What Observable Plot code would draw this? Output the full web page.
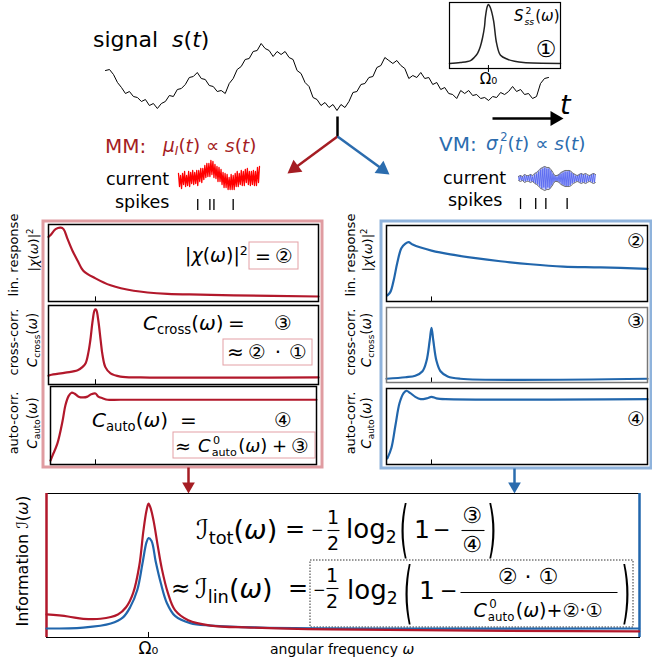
<!DOCTYPE html>
<html>
<head>
<meta charset="utf-8">
<script src="https://cdn.jsdelivr.net/npm/d3@7"></script>
<script src="https://cdn.jsdelivr.net/npm/@observablehq/plot@0.6"></script>
<style>
html,body{margin:0;padding:0;background:#fff;}
#fig{position:relative;width:652px;height:663px;overflow:hidden;background:#fff;font-family:"DejaVu Sans",sans-serif;color:#000;}
.t{position:absolute;white-space:nowrap;line-height:1;}
.t i{font-style:italic;}
.t sub{font-size:0.66em;vertical-align:-0.3em;line-height:0;}
.t sup{font-size:0.66em;vertical-align:0.55em;line-height:0;}
.ss{display:inline-grid;font-size:0.62em;line-height:1;padding-left:0.1em;padding-right:0.12em;}
.ss > span{grid-area:1 / 1;position:relative;}
.ss .up{top:-0.75em;left:0.12em;}
.ss .dn{top:0.38em;}
.cd{font-family:"DejaVu Sans","Noto Sans CJK JP",sans-serif;font-style:normal;}
.cal{font-family:"DejaVu Sans","DejaVu Serif","Noto Sans",serif;}
.gp{filter:grayscale(1);}
</style>
</head>
<body>
<div id="fig"></div>
<script>
// ---------------- data ----------------
// top stimulus trace s(t), sampled every ~4 px (amplitude, up = positive)
const signalValues = [40,41,36,28,23,17,19,14,13,9, 11,5,7,2,7,9,15,14,21,22,
  26,33,34,38,32,31,25,24,19,20, 17,27,32,41,44,51,52,59,60,67,
  62,60,54,59,56,59,53,51,40,37, 28,24,13,11,5,8,3,6,0,6,
  3,9,18,19,26,27,33,34,43,45, 53,50,47,50,45,42,32,35,33,38,
  32,33,26,28,21,23,17,16,12,20, 17,20,15,16,12,13,10,14,13,18,
  16,19,24,19,21,16,17,12,14,27, 32,33];

// inset: stimulus power spectrum S_ss^2(omega), omega in units of Omega0
const omegaInset = [0,0.28,0.54,0.64,0.72,0.79,0.85,0.90,0.92,0.97,1.0,1.05,1.13,1.21,1.31,1.49,1.67,1.9,2.85];
const spectrum   = [0.076,0.09,0.12,0.17,0.23,0.33,0.47,0.64,0.77,0.94,0.97,0.92,0.73,0.38,0.2,0.14,0.11,0.09,0.076];

// MM input current (red) and spike times
const mmCurrent = [22,9,20,7,22,11,24,9,20,10, 24,9,23,12,25,11,23,12,25,10,
  25,14,27,13,27,16,30,18,32,19, 32,19,35,21,34,18,31,17,29,14,
  28,14,26,11,23,8,22,8,21,6, 18,6,21,6,20,6,22,9,24,9,
  22,11,25,10,24,10,26,13,27,11, 24,10,24,11,25,10,24,10,28,13, 29];
const mmSpikes = [19,31,35,54];

// VM input current (blue), its envelope half-width (every 2 samples) and spike times
const vmCurrent = [22,18,23,18,22,17,23,17,23,18, 23,17,24,17,22,16,24,15,25,14,
  27,12,29,10,30,11,31,9,30,11, 30,10,28,13,25,16,23,17,22,17,
  24,16,25,14,26,13,27,12,27,12, 28,13,26,15,25,16,23,17,23,17,
  24,16,25,16,24,16,24,16,23,17, 23,17,24,16,25,16,24];
const vmEnvelope = [2,3,2,4,3,3,4,3,5,6,8,10,11,12,11,11,9,6,3,3,4,6,7,8,8,8,7,5,4,3,4,5,4,5,4,3,4,5,4];
const vmSpikes = [2,17,27,48];
const currentCenter = 20;

// MM panels (omega in units of Omega0, values normalised to panel height)
const omegaMM1 = [0,0.04,0.15,0.26,0.32,0.40,0.51,0.62,0.74,1.0,1.32,1.81,2.53,3.23,3.94,5.745];
const mmLinResp = [0.84,0.86,0.94,0.96,0.94,0.82,0.66,0.53,0.40,0.30,0.21,0.14,0.10,0.09,0.08,0.065];
const omegaMM2 = [0,0.04,0.36,0.62,0.72,0.79,0.85,0.89,0.94,0.98,1.0,1.02,1.06,1.11,1.15,1.21,1.32,1.53,1.96,5.745];
const mmCrossCorr = [0.11,0.12,0.15,0.18,0.22,0.27,0.41,0.56,0.81,0.94,0.95,0.94,0.81,0.56,0.37,0.22,0.14,0.10,0.09,0.09];
const omegaMM3 = [0.043,0.09,0.19,0.30,0.36,0.43,0.49,0.55,0.64,0.74,0.83,0.91,1.0,1.06,1.15,1.26,1.53,5.70];
const mmAutoCorr = [0.05,0.12,0.27,0.56,0.76,0.88,0.92,0.91,0.87,0.86,0.87,0.90,0.91,0.87,0.85,0.83,0.83,0.83];

// VM panels
const omegaVM1 = [0.02,0.09,0.16,0.24,0.33,0.42,0.49,0.58,0.76,1.0,1.42,1.98,2.53,3.2,3.93,4.76,5.8];
const vmLinResp = [0.08,0.13,0.28,0.51,0.70,0.76,0.78,0.75,0.71,0.67,0.62,0.57,0.53,0.49,0.46,0.45,0.43];
const omegaVM2 = [0,0.42,0.64,0.8,0.89,0.96,1.0,1.04,1.11,1.2,1.36,1.64,5.8];
const vmCrossCorr = [0.05,0.07,0.09,0.15,0.29,0.56,0.73,0.56,0.29,0.15,0.08,0.05,0.05];
const omegaVM3 = [0.02,0.11,0.2,0.29,0.38,0.44,0.53,0.64,0.76,0.89,1.0,1.11,1.31,5.8];
const vmAutoCorr = [0.08,0.22,0.52,0.81,0.94,0.97,0.94,0.89,0.86,0.87,0.89,0.87,0.86,0.86];

// information spectra
const omegaInfoMM = [0,0.21,0.36,0.53,0.70,0.78,0.85,0.91,0.95,0.98,1.0,1.02,1.05,1.09,1.13,1.19,1.26,1.39,1.61,2.0,2.78,5.81];
const infoMM = [0.16,0.146,0.13,0.13,0.16,0.21,0.31,0.50,0.74,0.88,0.93,0.90,0.81,0.64,0.48,0.31,0.19,0.12,0.083,0.069,0.056,0.042];
const omegaInfoVM = [0,0.36,0.63,0.75,0.82,0.89,0.94,0.98,1.0,1.03,1.07,1.12,1.18,1.26,1.41,1.61,2.1,5.81];
const infoVM = [0.0625,0.069,0.097,0.14,0.21,0.33,0.51,0.66,0.69,0.67,0.53,0.38,0.24,0.15,0.10,0.083,0.069,0.0625];

const omegaTicks = [1];
const tickLabels = ["Ω₀"];

// ---------------- helpers ----------------
const RED = "#b2182b", BLUE = "#2166ac", MMRED = "#a51d23", VMBLUE = "#2b6cae";
const FONT = "'DejaVu Sans', sans-serif";
const fig = document.getElementById("fig");
const baseStyle = {background: "transparent", overflow: "visible", fontFamily: FONT};

function put(node, left, top) {
  node.style.position = "absolute";
  node.style.left = left + "px";
  node.style.top = top + "px";
  fig.appendChild(node);
}
function T(html, x, y, size, o = {}) {
  const d = document.createElement("div");
  d.className = "t" + (o.cls ? " " + o.cls : "");
  d.innerHTML = html;
  d.style.left = x + "px";
  d.style.top = y + "px";
  d.style.fontSize = size + "px";
  if (o.color) d.style.color = o.color;
  let tr = `translate(${o.anchor === "middle" ? "-50%" : "0"},-50%)`;
  if (o.rotate) tr += ` rotate(${o.rotate}deg)`;
  if (o.sy) tr += ` scale(${o.sx || 1},${o.sy})`;
  d.style.transform = tr;
  fig.appendChild(d);
}
const zip = (xs, ys) => xs.map((w, i) => ({w, v: ys[i]}));
const ss = (up, dn) => `<span class=ss><span class=up>${up}</span><span class=dn>${dn}</span></span>`;

// ---------------- overlay: frames, boxes, arrows ----------------
const outerFrames = [
  {x1: 43, x2: 322, y1: 221, y2: 467, color: "#e09ca1"},
  {x1: 381, x2: 651, y1: 221, y2: 468, color: "#8fb3dc"}
];
const textBoxes = [
  {x1: 249, x2: 298, y1: 242, y2: 269},
  {x1: 223, x2: 312, y1: 339, y2: 365},
  {x1: 173, x2: 315, y1: 432, y2: 458}
];
const dottedBoxes = [{x1: 310, x2: 633, y1: 560, y2: 627}];
const fracBars = [
  {x1: 327, x2: 339, y: 530}, {x1: 461, x2: 484, y: 530},
  {x1: 326, x2: 338, y: 588}, {x1: 460, x2: 617, y: 592}
];
const stems = [{x1: 337, y1: 116, x2: 337, y2: 137, color: "#000"}];
const arrows = [
  {x1: 337, y1: 136, x2: 287, y2: 173, color: MMRED, L: 13},
  {x1: 337, y1: 136, x2: 389, y2: 174, color: VMBLUE, L: 13},
  {x1: 492, y1: 118, x2: 563, y2: 118, color: "#000", L: 13},
  {x1: 188, y1: 467, x2: 188, y2: 493, color: MMRED, L: 11},
  {x1: 514, y1: 468, x2: 514, y2: 493, color: VMBLUE, L: 11}
];
function arrowMarks(a) {
  const dx = a.x2 - a.x1, dy = a.y2 - a.y1, n = Math.hypot(dx, dy);
  const ux = dx / n, uy = dy / n, hy = a.L / 3;
  const headPt = {x: a.x2 - ux * 2 * hy, y: a.y2 - uy * 2 * hy, rot: Math.atan2(dx, -dy) * 180 / Math.PI};
  const body = {x1: a.x1, y1: a.y1, x2: a.x2 - ux * a.L * 0.8, y2: a.y2 - uy * a.L * 0.8};
  return [
    Plot.link([body], {x1: "x1", y1: "y1", x2: "x2", y2: "y2", stroke: a.color, strokeWidth: 2.5}),
    Plot.dot([headPt], {x: "x", y: "y", symbol: "triangle", rotate: "rot",
      r: Math.sqrt(3 * Math.sqrt(3) * hy * hy / Math.PI), fill: a.color, stroke: "none"})
  ];
}
const overlay = Plot.plot({
  width: 652, height: 663, margin: 0, style: baseStyle,
  x: {domain: [0, 652], range: [0, 652], axis: null},
  y: {domain: [0, 663], range: [0, 663], axis: null},
  marks: [
    ...outerFrames.map(f => Plot.rect([f], {x1: "x1", x2: "x2", y1: "y1", y2: "y2", fill: "none", stroke: f.color, strokeWidth: 3})),
    Plot.rect(textBoxes, {x1: "x1", x2: "x2", y1: "y1", y2: "y2", fill: "none", stroke: "#e3a0a5", strokeWidth: 1}),
    Plot.rect(dottedBoxes, {x1: "x1", x2: "x2", y1: "y1", y2: "y2", fill: "none", stroke: "#333", strokeWidth: 1, strokeDasharray: "1.5,1.5"}),
    Plot.link(fracBars, {x1: "x1", x2: "x2", y1: "y", y2: "y", stroke: "#000", strokeWidth: 1.1}),
    Plot.link(stems, {x1: "x1", y1: "y1", x2: "x2", y2: "y2", stroke: "#000", strokeWidth: 2.5}),
    ...arrows.flatMap(arrowMarks)
  ]
});
put(overlay, 0, 0);

// ---------------- signal trace ----------------
put(Plot.plot({
  width: 445, height: 76, margin: 1, style: baseStyle,
  x: {domain: [0, signalValues.length - 1], axis: null},
  y: {domain: [-2, 72], axis: null},
  marks: [Plot.line(signalValues, {x: (d, i) => i, y: d => d, stroke: "#000", strokeWidth: 1})]
}), 104, 37);

// ---------------- inset spectrum ----------------
put(Plot.plot({
  width: 113, height: 87, marginTop: 1, marginLeft: 1, marginRight: 1, marginBottom: 20, style: baseStyle,
  x: {domain: [0, 2.85]},
  y: {domain: [0, 1], axis: null},
  marks: [
    Plot.line(zip(omegaInset, spectrum), {x: "w", y: "v", stroke: "#222", strokeWidth: 1.5, curve: "catmull-rom"}),
    Plot.ruleX(omegaTicks, {y1: -0.06, y2: 0.045, stroke: "#000", strokeWidth: 1}),
    Plot.frame({stroke: "#000", strokeWidth: 1.2}),
    Plot.axisX({ticks: omegaTicks, tickFormat: (d, i) => tickLabels[i], tickSize: 0, tickPadding: 5, fontSize: 15, label: null})
  ]
}), 448, 1);

// ---------------- currents & spikes ----------------
put(Plot.plot({
  width: 83, height: 56, margin: 1, style: baseStyle,
  x: {domain: [0, mmCurrent.length - 1], axis: null},
  y: {domain: [-17, 37], axis: null},
  marks: [
    Plot.line(mmCurrent, {x: (d, i) => i, y: d => d, stroke: "#ff0000", strokeWidth: 1.3}),
    Plot.ruleX(mmSpikes, {y1: -4, y2: -15, stroke: "#000", strokeWidth: 1.3})
  ]
}), 177, 157);

const vmEnvData = vmEnvelope.map((w, i) => ({t: 2 * i, lo: currentCenter - w, hi: currentCenter + w}));
put(Plot.plot({
  width: 79, height: 54, margin: 1, style: baseStyle,
  x: {domain: [0, vmCurrent.length - 1], axis: null},
  y: {domain: [-14, 38], axis: null},
  marks: [
    Plot.areaY(vmEnvData, {x: "t", y1: "lo", y2: "hi", fill: "#c9cef8", curve: "catmull-rom"}),
    Plot.line(vmCurrent, {x: (d, i) => i, y: d => d, stroke: "#4a5cf0", strokeWidth: 0.8}),
    Plot.line(vmEnvData, {x: "t", y: "hi", stroke: "#6a6a6a", strokeWidth: 1, curve: "catmull-rom"}),
    Plot.line(vmEnvData, {x: "t", y: "lo", stroke: "#6a6a6a", strokeWidth: 1, curve: "catmull-rom"}),
    Plot.ruleX(vmSpikes, {y1: 0, y2: -11, stroke: "#000", strokeWidth: 1.3})
  ]
}), 517, 159);

// ---------------- panels ----------------
function panel(omega, values, f, domain, color, frameColor = "#000") {
  put(Plot.plot({
    width: f.x1 - f.x0 + 2, height: f.y1 - f.y0 + 2, margin: 1, style: baseStyle,
    x: {domain, axis: null},
    y: {domain: [0, 1], axis: null},
    marks: [
      Plot.line(zip(omega, values), {x: "w", y: "v", stroke: color, strokeWidth: 2.2, curve: "catmull-rom"}),
      Plot.ruleX(omegaTicks, {y1: 0, y2: 0.06, stroke: "#000", strokeWidth: 1}),
      Plot.frame({stroke: frameColor, strokeWidth: 1.5})
    ]
  }), f.x0 - 1, f.y0 - 1);
}
panel(omegaMM1, mmLinResp,  {x0: 48, x1: 318, y0: 224, y1: 301}, [0, 5.745], RED);
panel(omegaMM2, mmCrossCorr,{x0: 48, x1: 318, y0: 305, y1: 384}, [0, 5.745], RED);
panel(omegaMM3, mmAutoCorr, {x0: 50, x1: 316, y0: 386, y1: 464}, [0.0426, 5.702], RED);
panel(omegaVM1, vmLinResp,  {x0: 386, x1: 647, y0: 225, y1: 301}, [0, 5.8], BLUE);
panel(omegaVM2, vmCrossCorr,{x0: 386, x1: 647, y0: 307, y1: 382}, [0, 5.8], BLUE, "#777");
panel(omegaVM3, vmAutoCorr, {x0: 386, x1: 647, y0: 388, y1: 464}, [0, 5.8], BLUE);

// ---------------- information panel ----------------
put(Plot.plot({
  width: 595, height: 171, marginTop: 1, marginLeft: 1, marginRight: 1, marginBottom: 26, style: baseStyle,
  x: {domain: [0, 5.814]},
  y: {domain: [0, 1], axis: null},
  marks: [
    Plot.frame({stroke: "#000", strokeWidth: 1}),
    Plot.ruleX([0], {stroke: RED, strokeWidth: 2.5}),
    Plot.ruleX([5.814], {stroke: BLUE, strokeWidth: 2.5}),
    Plot.line(zip(omegaInfoVM, infoVM), {x: "w", y: "v", stroke: BLUE, strokeWidth: 2.2, curve: "catmull-rom"}),
    Plot.line(zip(omegaInfoMM, infoMM), {x: "w", y: "v", stroke: RED, strokeWidth: 2.2, curve: "catmull-rom"}),
    Plot.ruleX(omegaTicks, {y1: 0, y2: 0.035, stroke: "#000", strokeWidth: 1}),
    Plot.axisX({ticks: omegaTicks, tickFormat: (d, i) => tickLabels[i], tickSize: 0, tickPadding: 4, fontSize: 17, label: null})
  ]
}), 45, 492);

// ---------------- text ----------------
const c1 = "<span class=cd>①</span>", c2 = "<span class=cd>②</span>",
      c3 = "<span class=cd>③</span>", c4 = "<span class=cd>④</span>";
const M = {anchor: "middle"};

T("signal&nbsp;&nbsp;<i>s</i>(<i>t</i>)", 93, 40, 22);
T("<i>t</i>", 560, 104, 27);
T("<i>S</i>" + ss("2", "<i>ss</i>") + "(<i>ω</i>)", 514, 16, 15);
T(c1, 546, 49, 23, M);

T("MM:", 105, 146, 20, {color: MMRED});
T("<i>μ<sub>I</sub></i>(<i>t</i>) ∝ <i>s</i>(<i>t</i>)", 163, 146, 18.5, {color: MMRED});
T("VM:", 439, 144, 20, {color: VMBLUE});
T("<i>σ</i>" + ss("2", "<i>I</i>") + "(<i>t</i>) ∝ <i>s</i>(<i>t</i>)", 486, 144, 18.5, {color: VMBLUE});
T("current", 106, 180, 17.5);
T("spikes", 115, 203, 17.5);
T("current", 443, 179, 17.5);
T("spikes", 448, 201, 17.5);

// rotated y labels
const R = {anchor: "middle", rotate: -90};
for (const [xa, xb] of [[13, 33], [350, 367]]) {
  T("lin. response", xa, 255, 13, R);
  T("|<i>χ</i>(<i>ω</i>)|<sup>2</sup>", xb, 250, 13, R);
  T("cross-corr.", xa, 342, 13, R);
  T("<i>C</i><sub>cross</sub>(<i>ω</i>)", xb, 340, 13.5, R);
  T("auto-corr.", xa, 423, 13, R);
  T("<i>C</i><sub>auto</sub>(<i>ω</i>)", xb, 423, 13.5, R);
}

// MM panel annotations
T("|<i>χ</i>(<i>ω</i>)|<sup>2</sup>", 185, 255, 19);
T("=", 255, 256, 19);
T(c2, 284, 256, 20, M);
T("<i>C</i><sub>cross</sub>(<i>ω</i>)", 143, 323, 20);
T("=", 228, 323, 20);
T(c3, 283, 323, 20, M);
T("≈", 227, 352, 20);
T(c2, 257, 352, 20, M);
T("·", 278, 352, 20, M);
T(c1, 298, 352, 20, M);
T("<i>C</i><sub>auto</sub>(<i>ω</i>)", 92, 420, 20);
T("=", 180, 420, 20);
T(c4, 283, 420, 20, M);
T("≈", 175, 446, 19);
T("<i>C</i>" + ss("0", "auto") + "(<i>ω</i>)", 198, 446, 18);
T("+", 272, 446, 18);
T(c3, 300, 446, 20, M);

// VM panel annotations
T(c2, 636, 241, 20, M);
T(c3, 636, 321, 20, M);
T(c4, 636, 419, 20, M);

// information panel labels
T("Information <span class=cal>ℐ</span>(<i>ω</i>)", 23, 561, 16, R);
T("angular frequency <i>ω</i>", 270, 649, 14);

// formula 1
const P1 = {anchor: "middle", sx: 0.85, sy: 2.3, cls: "gp"};
const P2 = {anchor: "middle", sx: 0.85, sy: 2.5, cls: "gp"};
T("<span class=cal>ℐ</span><sub>tot</sub>(<i>ω</i>)", 196, 529, 27);
T("=", 285, 529, 24);
T("−", 311, 530, 15);
T("1", 333, 517, 19, M);
T("2", 333, 543, 19, M);
T("log<sub>2</sub>", 346, 529, 26);
T("(", 404, 528, 27, P1);
T("1", 414, 529, 25);
T("−", 433, 530, 21);
T(c3, 472, 516, 22, M);
T(c4, 472, 545, 22, M);
T(")", 492, 528, 27, P1);

// formula 2
T("≈", 171, 588, 23);
T("<span class=cal>ℐ</span><sub>lin</sub>(<i>ω</i>)", 195, 588, 27);
T("=", 288, 588, 24);
T("−", 313, 590, 15);
T("1", 332, 575, 19, M);
T("2", 332, 601, 19, M);
T("log<sub>2</sub>", 347, 590, 26);
T("(", 408, 592, 27, P2);
T("1", 419, 590, 25);
T("−", 440, 591, 21);
T(c2 + " · " + c1, 528, 577, 22, M);
T("<i>C</i>" + ss("0", "auto") + "(<i>ω</i>)+" + c2 + "·" + c1, 538, 610, 19, M);
T(")", 626, 592, 27, P2);
</script>
</body>
</html>
